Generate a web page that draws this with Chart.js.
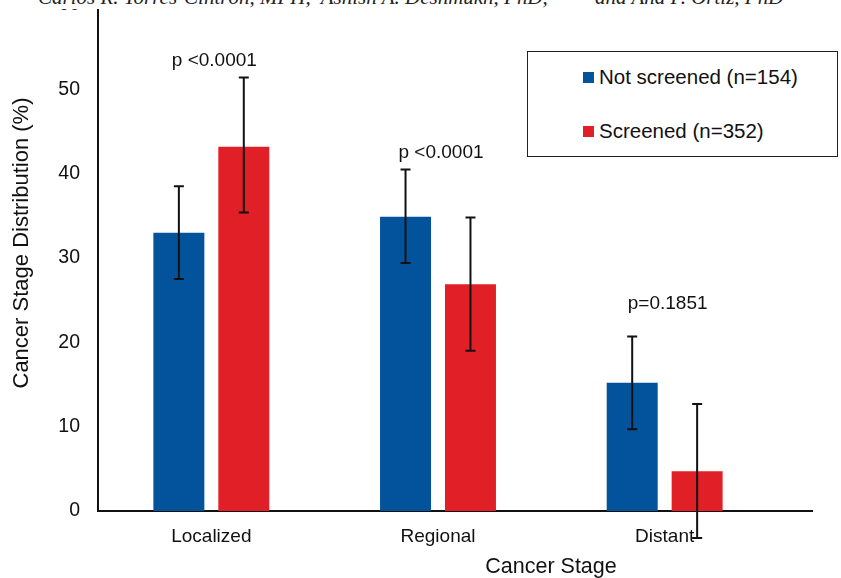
<!DOCTYPE html>
<html lang="en">
<head>
    <meta charset="UTF-8">
    <title>Cancer Stage Distribution</title>
    <script src="https://cdn.jsdelivr.net/npm/chart.js"></script>
    <style>
        body {
            margin: 0;
            background: #fff;
            font-family: "Liberation Sans", Arial, sans-serif;
        }
        #wrap {
            position: relative;
            width: 841px;
            height: 578px;
            overflow: hidden;
        }
        #header {
            position: absolute;
            left: 0;
            top: 0;
            width: 841px;
            height: 9px;
            overflow: hidden;
            background: #fff;
            z-index: 2;
        }
        #header span {
            position: absolute;
            left: 38px;
            top: -13px;
            font-family: "Liberation Serif", "Times New Roman", serif;
            font-style: italic;
            font-size: 21px;
            line-height: 21px;
            white-space: pre;
            color: #222;
        }
        #legend {
            position: absolute;
            left: 527px;
            top: 51px;
            width: 309px;
            height: 104px;
            border: 1.5px solid #222;
            background: #fff;
            z-index: 1;
        }
        .item {
            position: absolute;
            left: 55px;
            font-size: 20.5px;
            color: #111;
            white-space: nowrap;
        }
        .item i {
            display: inline-block;
            width: 11px;
            height: 11px;
            margin-right: 5px;
            vertical-align: 1px;
        }
    </style>
</head>
<body>
<div id="wrap">
    <div id="header"><span>Carlos R. Torres-Cintrón, MPH,  Ashish A. Deshmukh, PhD,         and Ana P. Ortiz, PhD</span></div>
    <canvas id="chart" width="841" height="578"></canvas>
    <div id="legend"></div>
</div>
<script>
    // categories and values
    const stages = ['Localized', 'Regional', 'Distant'];
    const seriesNames = ['Not screened (n=154)', 'Screened (n=352)'];
    const seriesColors = ['#03539c', '#e01f27'];

    const notScreened = [33.0, 34.9, 15.2];
    const notScreenedLo = [27.5, 29.4, 9.7];
    const notScreenedHi = [38.5, 40.5, 20.7];

    const screened = [43.2, 26.9, 4.7];
    const screenedLo = [35.4, 19.0, -3.2];
    const screenedHi = [51.4, 34.8, 12.7];

    const pValues = ['p <0.0001', 'p <0.0001', 'p=0.1851'];
    const pLabelAt = [53.4, 42.5, 24.6];

    const yTicks = [0, 10, 20, 30, 40, 50, 60];

    const font = '"Liberation Sans", Arial, sans-serif';

    function toPoints(vals) {
        return vals.map((v, i) => ({ x: i + 1, y: v }));
    }

    const errors = [
        { lo: notScreenedLo, hi: notScreenedHi },
        { lo: screenedLo, hi: screenedHi }
    ];

    // error bars, p-value labels and axis titles
    const extras = {
        id: 'extras',
        afterDatasetsDraw(chart) {
            const ctx = chart.ctx;
            const ys = chart.scales.y;
            const xs = chart.scales.x;
            ctx.save();
            ctx.strokeStyle = '#111';
            ctx.lineWidth = 2;
            errors.forEach((e, d) => {
                chart.getDatasetMeta(d).data.forEach((bar, i) => {
                    const top = ys.getPixelForValue(e.hi[i]);
                    const bot = ys.getPixelForValue(e.lo[i]);
                    ctx.beginPath();
                    ctx.moveTo(bar.x, top);
                    ctx.lineTo(bar.x, bot);
                    ctx.moveTo(bar.x - 5, top);
                    ctx.lineTo(bar.x + 5, top);
                    ctx.moveTo(bar.x - 5, bot);
                    ctx.lineTo(bar.x + 5, bot);
                    ctx.stroke();
                });
            });

            ctx.fillStyle = '#111';
            ctx.textAlign = 'center';
            ctx.textBaseline = 'middle';
            ctx.font = '19px ' + font;
            pValues.forEach((t, i) => {
                ctx.fillText(t, xs.getPixelForValue(i + 1) + 3, ys.getPixelForValue(pLabelAt[i]));
            });

            ctx.font = '21.5px ' + font;
            ctx.fillText('Cancer Stage', 551, 567);
            ctx.translate(22, 243);
            ctx.rotate(-Math.PI / 2);
            ctx.font = '22px ' + font;
            ctx.fillText('Cancer Stage Distribution (%)', 0, 0);
            ctx.restore();
        }
    };

    const chart = new Chart(document.getElementById('chart'), {
        type: 'bar',
        data: {
            datasets: [
                { label: seriesNames[0], data: toPoints(notScreened), backgroundColor: seriesColors[0] },
                { label: seriesNames[1], data: toPoints(screened), backgroundColor: seriesColors[1] }
            ]
        },
        options: {
            responsive: false,
            animation: false,
            categoryPercentage: 0.573,
            barPercentage: 0.785,
            layout: { padding: { top: 5, right: 29, left: 0, bottom: 0 } },
            plugins: {
                legend: { display: false },
                tooltip: { enabled: false }
            },
            scales: {
                x: {
                    type: 'linear',
                    min: 0.5,
                    max: 3.65,
                    offset: false,
                    grid: { display: false, drawTicks: false },
                    border: { color: '#111', width: 2 },
                    afterBuildTicks: s => { s.ticks = stages.map((_, i) => ({ value: i + 1 })); },
                    afterFit: s => { s.height = 67; s.paddingLeft = 0; s.paddingRight = 0; },
                    ticks: {
                        padding: 14,
                        color: '#111',
                        font: { size: 19, family: font },
                        callback: v => stages[v - 1]
                    }
                },
                y: {
                    min: 0,
                    max: 60,
                    grid: { display: false, drawTicks: false },
                    border: { color: '#111', width: 2 },
                    afterBuildTicks: s => { s.ticks = yTicks.map(v => ({ value: v })); },
                    afterFit: s => { s.width = 98; s.paddingTop = 0; s.paddingBottom = 0; },
                    ticks: {
                        padding: 18,
                        color: '#111',
                        font: { size: 19.5, family: font }
                    }
                }
            }
        },
        plugins: [extras]
    });

    // boxed legend like the original
    const legend = document.getElementById('legend');
    seriesNames.forEach((name, i) => {
        const div = document.createElement('div');
        div.className = 'item';
        div.style.top = (i === 0 ? 13 : 67) + 'px';
        div.innerHTML = '<i style="background:' + seriesColors[i] + '"></i>' + name;
        legend.appendChild(div);
    });
</script>
</body>
</html>
